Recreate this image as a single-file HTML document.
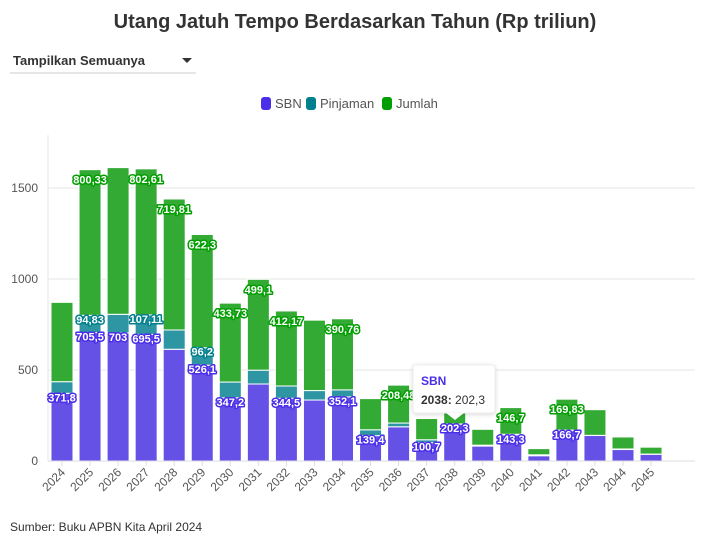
<!DOCTYPE html>
<html><head><meta charset="utf-8"><style>
body{margin:0;background:#fff;font-family:"Liberation Sans",sans-serif;}
svg text{font-family:"Liberation Sans",sans-serif;}
</style></head><body>
<svg width="710" height="543" viewBox="0 0 710 543" xmlns="http://www.w3.org/2000/svg">
<text x="355" y="28" text-anchor="middle" font-size="20" font-weight="bold" fill="#333">Utang Jatuh Tempo Berdasarkan Tahun (Rp triliun)</text>
<g>
<text x="13" y="65" font-size="13" font-weight="bold" fill="#333">Tampilkan Semuanya</text>
<line x1="10" y1="73" x2="196" y2="73" stroke="#ccc"/>
<path d="M182 58 L192 58 L187 63 Z" fill="#333"/>
</g>
<g font-size="13" fill="#555">
<g><rect x="261" y="97" width="10" height="13" rx="3" fill="#4a2ee8"/><text x="275" y="108">SBN</text></g>
<g><rect x="306" y="97" width="10" height="13" rx="3" fill="#007f8c"/><text x="320" y="108">Pinjaman</text></g>
<g><rect x="382" y="97" width="10" height="13" rx="3" fill="#009e00"/><text x="396" y="108">Jumlah</text></g>
</g>
<g id="grid"></g>
<g id="bars"></g>
<g id="labels"></g>
<g id="axes"></g>
<g>
<rect x="413" y="365" width="82" height="48" rx="3" fill="#fff" stroke="#eee" style="filter:drop-shadow(0 1px 2px rgba(0,0,0,0.15))"/>
<path d="M446 413 L455 420 L464 413 Z" fill="#fff"/>
<text x="421" y="385" font-size="12" font-weight="bold" fill="#4a2ee8">SBN</text>
<text x="421" y="404" font-size="12" fill="#333"><tspan font-weight="bold">2038:</tspan> 202,3</text>
</g>
<text x="10" y="531" font-size="12" fill="#333">Sumber: Buku APBN Kita April 2024</text>
</svg>
<script>
const years=["2024","2025","2026","2027","2028","2029","2030","2031","2032","2033","2034","2035","2036","2037","2038","2039","2040","2041","2042","2043","2044","2045"];
const sbn=[371.8,705.5,703,695.5,614,526.1,347.2,423,344.5,335,352.1,139.4,188,100.7,202.3,82,143.3,29,166.7,140,63,37];
const pinjaman=[64,94.83,103,107.11,105.81,96.2,86.53,76.1,67.67,52,38.66,32,20.48,16,1,5,3.4,5,3.13,1,3,1];
const jumlah=[435.8,800.33,806,802.61,719.81,622.3,433.73,499.1,412.17,387,390.76,171.4,208.48,116.7,203.3,87,146.7,34,169.83,141,66,38];
const sbnLabels=["371,8","705,5","703","695,5",null,"526,1","347,2",null,"344,5",null,"352,1","139,4",null,"100,7","202,3",null,"143,3",null,"166,7",null,null,null];
const pinjLabels=[null,"94,83",null,"107,11",null,"96,2",null,null,null,null,null,null,null,null,null,null,null,null,null,null,null,null];
const jumLabels=[null,"800,33",null,"802,61","719,81","622,3","433,73","499,1","412,17",null,"390,76",null,"208,48",null,null,null,"146,7",null,"169,83",null,null,null];
const yTicks=[0,500,1000,1500];
const NS="http://www.w3.org/2000/svg";
const y0=461,ppu=91/500,x0=48,x1=695,step=28.05,bw=22,c0=62;
const yS=v=>y0-v*ppu, xS=i=>c0+i*step;
function mk(t,a,p){const e=document.createElementNS(NS,t);for(const k in a)e.setAttribute(k,a[k]);p.appendChild(e);return e;}
const grid=document.getElementById('grid'),bars=document.getElementById('bars'),labels=document.getElementById('labels'),axes=document.getElementById('axes');
yTicks.forEach(t=>{
 if(t>0){const l=mk('line',{x1:x0,x2:x1,y1:yS(t),y2:yS(t),stroke:'#e6e6e6'},grid);
 }
 const tx=mk('text',{x:38,y:yS(t)+4,'text-anchor':'end','font-size':12,fill:'#555'},axes);tx.textContent=t;
 
});
mk('line',{x1:x0,x2:x0,y1:135,y2:y0,stroke:'#e6e6e6'},grid);
const ax=mk('line',{x1:x0,x2:x1,y1:y0,y2:y0,stroke:'#ddd'},axes);

function lab(txt,x,y,col){
 const t=mk('text',{x:x,y:y+4,'text-anchor':'middle','font-size':11,'font-weight':'bold',fill:'#fff',stroke:col,'stroke-width':3,'stroke-linejoin':'round','paint-order':'stroke'},labels);
 t.textContent=txt;
 
 
}
years.forEach((yr,i)=>{
 const cx=xS(i),bx=cx-bw/2;
 const segs=[[0,sbn[i],'#6551e6','bar-sbn'],[sbn[i],sbn[i]+pinjaman[i],'#2e95a3','bar-pinjaman'],[sbn[i]+pinjaman[i],sbn[i]+pinjaman[i]+jumlah[i],'#33aa33','bar-jumlah']];
 segs.forEach(s=>{
  const r=mk('rect',{x:bx,y:yS(s[1]),width:bw,height:Math.max(0,yS(s[0])-yS(s[1])),fill:s[2],stroke:'#fff','stroke-width':1},bars);
  
  
 });
 if(sbnLabels[i])lab(sbnLabels[i],cx,yS(sbn[i])+4,'#4a2ee8');
 if(pinjLabels[i])lab(pinjLabels[i],cx,yS(sbn[i]+pinjaman[i])+4,'#007f8c');
 if(jumLabels[i])lab(jumLabels[i],cx,yS(sbn[i]+pinjaman[i]+jumlah[i])+10,'#009e00');
 mk('line',{x1:cx,x2:cx,y1:y0,y2:y0+5,stroke:'#ddd'},axes);
 const t=mk('text',{x:cx+4,y:y0+12,'text-anchor':'end','font-size':12,fill:'#555',transform:`rotate(-45 ${cx+4} ${y0+12})`},axes);
 t.textContent=yr;
 
 
});
</script>
</body></html>
